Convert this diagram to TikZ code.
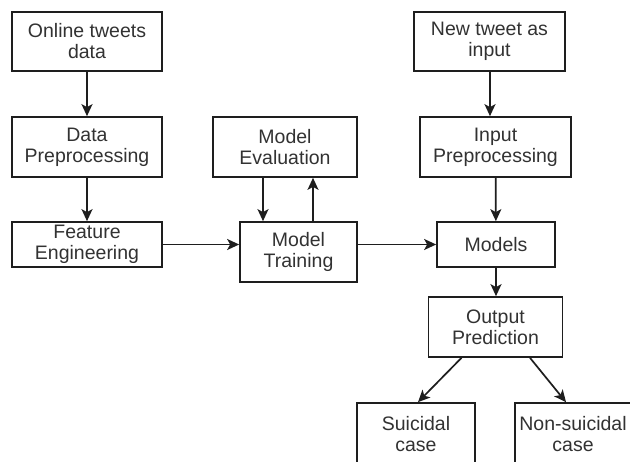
\documentclass[tikz,border=0pt]{standalone}
\usepackage{fontspec}
\setmainfont{Liberation Sans}
\usetikzlibrary{arrows.meta}
\definecolor{inkgray}{RGB}{30,30,30}
\definecolor{textgray}{RGB}{50,50,50}

\begin{document}
\begin{tikzpicture}[x=1pt,y=-1pt,
    box/.style={draw=inkgray, line width=1.7pt, align=center, inner sep=0pt,
      text=textgray, font=\fontsize{19.5}{21}\selectfont},
    arr/.style={-{Stealth[length=12pt,width=11pt,inset=3pt]}, inkgray, line width=1.7pt}]
      \useasboundingbox (0,0) rectangle (630,462);
      \clip (0,0) rectangle (630,462);
      \fill[white] (0,0) rectangle (630,462);
      % training side
      \node[box, minimum width=150pt, minimum height=59pt] (online) at (87,41.5) {Online tweets\\data};
      \node[box, minimum width=150pt, minimum height=60pt] (dataprep) at (87,147) {Data\\Preprocessing};
      \node[box, minimum width=150pt, minimum height=45pt] (feat) at (87,244.5) {Feature\\Engineering};
      \node[box, minimum width=144pt, minimum height=60pt] (eval) at (285,147) {Model\\Evaluation};
      \node[box, minimum width=117pt, minimum height=60pt] (train) at (298.5,252) {Model\\Training};
      % prediction side
      \node[box, minimum width=151pt, minimum height=59pt] (newtweet) at (489.5,41.5) {New tweet as\\input};
      \node[box, minimum width=151pt, minimum height=60pt] (inprep) at (495.5,147) {Input\\Preprocessing};
      \node[box, minimum width=118pt, minimum height=45pt] (models) at (496,244.5) {Models};
      \node[box, minimum width=134pt, minimum height=60pt] (outpred) at (495.5,327) {Output\\Prediction};
      \node[box, minimum width=118pt, minimum height=62pt] (suicidal) at (416,434) {Suicidal\\case};
      \node[box, minimum width=116pt, minimum height=62pt] (nonsuicidal) at (573,434) {Non-suicidal\\case};
      % connectors
      \draw[arr] (online) -- (dataprep);
      \draw[arr] (dataprep) -- (feat);
      \draw[arr] (feat.east) -- (feat.east -| train.west);
      \draw[arr] ([xshift=-22pt]eval.south) -- ([xshift=-22pt]eval.south |- train.north);
      \draw[arr] ([xshift=14.5pt]train.north) -- ([xshift=14.5pt]train.north |- eval.south);
      \draw[arr] (models.west -| train.east) -- (models.west);
      \draw[arr] ([xshift=-5.5pt]inprep.north |- newtweet.south) -- ([xshift=-5.5pt]inprep.north);
      \draw[arr] (inprep) -- (models);
      \draw[arr] (models.south) -- (models.south |- outpred.north);
      \draw[arr] ([xshift=-34pt]outpred.south) -- ([xshift=2pt]suicidal.north);
      \draw[arr] ([xshift=34.5pt]outpred.south) -- ([xshift=-7pt]nonsuicidal.north);
    \end{tikzpicture}
\end{document}
